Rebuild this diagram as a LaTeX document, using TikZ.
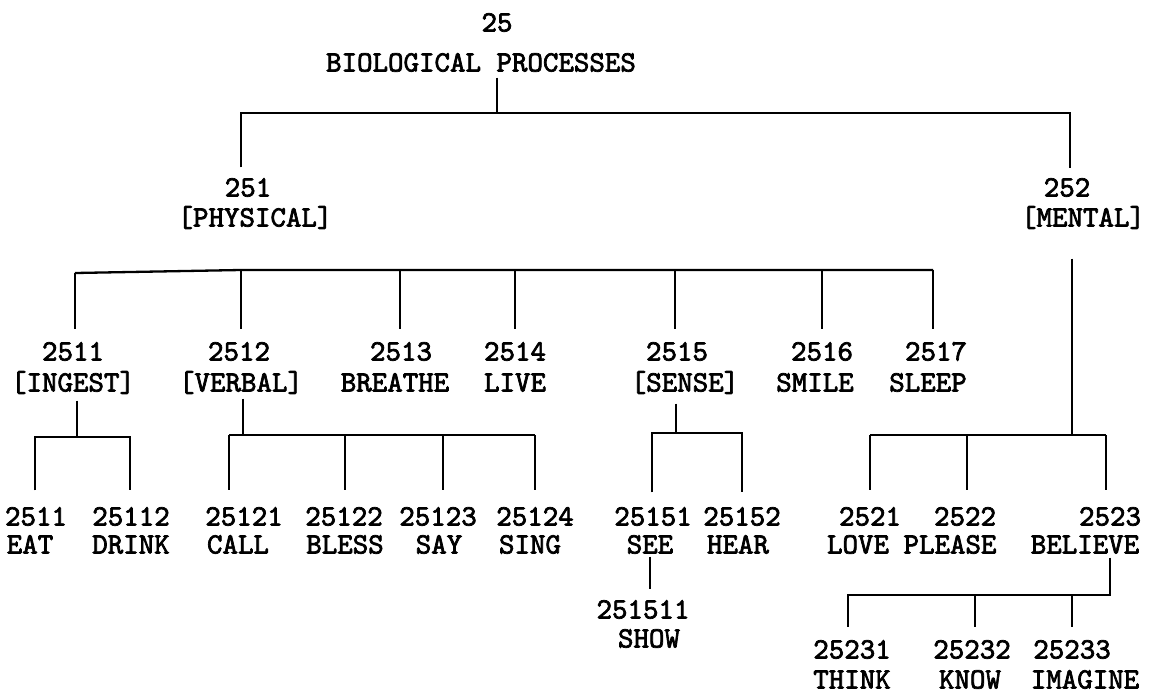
\documentclass[tikz,border=0pt]{standalone}
\usepackage{fontspec}
\newfontfamily\twfont{lmmono10-regular.otf}[FakeBold=2.4]
\tikzset{
  lbl/.style={inner sep=0pt, text height=17pt, text depth=0pt, font={\twfont\fontsize{29.5}{31}\selectfont}},
  ln/.style={line width=2.3pt, line cap=butt, line join=miter}
}
\begin{document}
\begin{tikzpicture}[x=1pt,y=-1pt]
\useasboundingbox[fill=white] (0,0) rectangle (1161,696);
% ---------- level 0
\node[lbl] (n25) at (497,23) {25};
\node[lbl] (bio) at (481,63) {BIOLOGICAL PROCESSES};
% ---------- level 1
\node[lbl] (n251) at (248,188) {251};
\node[lbl] (phys) at (255,218) {[PHYSICAL]};
\node[lbl] (n252) at (1067,188) {252};
\node[lbl] (ment) at (1083,218) {[MENTAL]};
% ---------- level 2 (physical)
\node[lbl] (n2511) at (73,352) {2511};
\node[lbl] (ingest) at (73,383) {[INGEST]};
\node[lbl] (n2512) at (239,352) {2512};
\node[lbl] (verbal) at (241,383) {[VERBAL]};
\node[lbl] (n2513) at (401,352) {2513};
\node[lbl] (breathe) at (395,383) {BREATHE};
\node[lbl] (n2514) at (515,352) {2514};
\node[lbl] (live) at (515,383) {LIVE};
\node[lbl] (n2515) at (677,352) {2515};
\node[lbl] (sense) at (685,383) {[SENSE]};
\node[lbl] (n2516) at (822,352) {2516};
\node[lbl] (smile) at (815,383) {SMILE};
\node[lbl] (n2517) at (936,352) {2517};
\node[lbl] (sleep) at (928,383) {SLEEP};
% ---------- level 3
\node[lbl] (n25111) at (36,517) {2511};
\node[lbl] (eat) at (30,545) {EAT};
\node[lbl] (n25112) at (131,517) {25112};
\node[lbl] (drink) at (131,545) {DRINK};
\node[lbl] (n25121) at (244,517) {25121};
\node[lbl] (call) at (238,545) {CALL};
\node[lbl] (n25122) at (344,517) {25122};
\node[lbl] (bless) at (345,545) {BLESS};
\node[lbl] (n25123) at (438,517) {25123};
\node[lbl] (say) at (439,545) {SAY};
\node[lbl] (n25124) at (535,517) {25124};
\node[lbl] (sing) at (530,545) {SING};
\node[lbl] (n25151) at (653,517) {25151};
\node[lbl] (see) at (650,545) {SEE};
\node[lbl] (n25152) at (742,517) {25152};
\node[lbl] (hear) at (738,545) {HEAR};
\node[lbl] (n2521) at (870,517) {2521};
\node[lbl] (love) at (858,545) {LOVE};
\node[lbl] (n2522) at (965,517) {2522};
\node[lbl] (please) at (950,545) {PLEASE};
\node[lbl] (n2523) at (1110,517) {2523};
\node[lbl] (believe) at (1085,545) {BELIEVE};
% ---------- level 4
\node[lbl] (n251511) at (643,610) {251511};
\node[lbl] (show) at (649,639) {SHOW};
\node[lbl] (n25231) at (852,650) {25231};
\node[lbl] (think) at (852,680) {THINK};
\node[lbl] (n25232) at (972,650) {25232};
\node[lbl] (know) at (970,680) {KNOW};
\node[lbl] (n25233) at (1072,650) {25233};
\node[lbl] (imagine) at (1085,680) {IMAGINE};

% ---------- connectors
% root
\coordinate (r0) at (497,113);
\coordinate (rl) at (241,113);
\coordinate (rr) at (1070,113);
\draw[ln] (r0 |- bio.south) ++(0,6) -- (r0);
\draw[ln] (rl |- n251.north) ++(0,-12) -- (rl) -- (rr) -- ++(0,55);
% physical bar
\coordinate (p1) at (75,273);
\coordinate (p2) at (241,270);
\coordinate (p3) at (400,270);
\coordinate (p4) at (515,270);
\coordinate (p5) at (675,270);
\coordinate (p6) at (822,270);
\coordinate (p7) at (933,270);
\draw[ln] (p1) -- (p2) -- (p7);
\foreach \c/\n in {p1/n2511,p2/n2512,p3/n2513,p4/n2514,p5/n2515,p6/n2516,p7/n2517}
  \draw[ln] (\c) -- ([yshift=14pt]\c |- \n.north);
% ingest
\coordinate (i0) at (77,437);
\coordinate (i1) at (35,437);
\coordinate (i2) at (130,437);
\draw[ln] ([yshift=-9pt]i0 |- ingest.south) -- (i0);
\draw[ln] ([yshift=18pt]i1 |- n25111.north) -- (i1) -- (i2) -- ([yshift=18pt]i2 |- n25112.north);
% verbal
\coordinate (v0) at (243,435);
\coordinate (v1) at (229,435);
\coordinate (v2) at (345,435);
\coordinate (v3) at (443,435);
\coordinate (v4) at (535,435);
\draw[ln] ([yshift=-7pt]v0 |- verbal.south) -- (v0);
\draw[ln] (v1) -- (v4);
\foreach \c/\n in {v1/n25121,v2/n25122,v3/n25123,v4/n25124}
  \draw[ln] (\c) -- ([yshift=18pt]\c |- \n.north);
% sense
\coordinate (s0) at (676,433);
\coordinate (s1) at (652,433);
\coordinate (s2) at (742,433);
\draw[ln] ([yshift=-12pt]s0 |- sense.south) -- (s0);
\draw[ln] ([yshift=16pt]s1 |- n25151.north) -- (s1) -- (s2) -- ([yshift=16pt]s2 |- n25152.north);
\draw[ln] ([yshift=-3pt]see.south) -- ([yshift=12pt]see.south |- n251511.north);
% mental
\coordinate (m0) at (1072,435);
\coordinate (m1) at (870,435);
\coordinate (m2) at (967,435);
\coordinate (m3) at (1106,435);
\draw[ln] ([yshift=-32pt]m0 |- ment.south) -- (m0);
\draw[ln] (m1) -- (m3);
\foreach \c/\n in {m1/n2521,m2/n2522,m3/n2523}
  \draw[ln] (\c) -- ([yshift=18pt]\c |- \n.north);
% believe
\coordinate (b0) at (1110,595);
\coordinate (b1) at (848,595);
\coordinate (b2) at (975,595);
\coordinate (b3) at (1072,595);
\draw[ln] ([yshift=-4pt]b0 |- believe.south) -- (b0) -- (b1) -- ([yshift=14pt]b1 |- n25231.north);
\draw[ln] (b2) -- ([yshift=14pt]b2 |- n25232.north);
\draw[ln] (b3) -- ([yshift=14pt]b3 |- n25233.north);
\end{tikzpicture}
\end{document}
